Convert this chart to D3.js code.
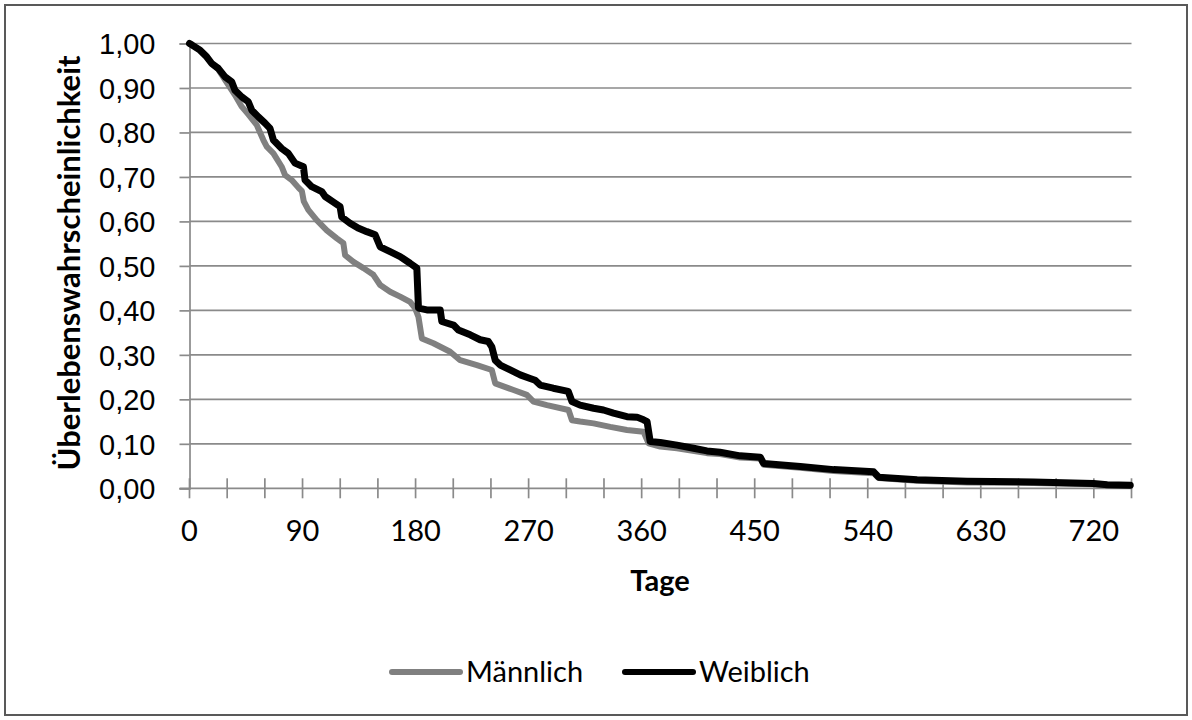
<!DOCTYPE html>
<html>
<head>
<meta charset="utf-8">
<script src="https://cdn.jsdelivr.net/npm/d3@7"></script>
<style>
  body { margin: 0; background: #fff; }
  svg { display: block; font-family: Lato, "Open Sans", sans-serif; }
</style>
</head>
<body>
<div id="chart"></div>
<script>
// Kaplan-Meier Kurven, Werte
const tageM = [0, 1.8, 8.4, 13.7, 17.7, 22.9, 28.3, 33.6, 36.2, 41.6, 47, 53.5, 58.8, 61.5, 66.8, 73.4, 76.1, 81.4, 86.7, 89.5, 91, 94.6, 101.3, 109.3, 117.3, 122.5, 123.9, 130.5, 138.5, 146.4, 151.8, 159.7, 167.7, 175.6, 179.6, 182.3, 185, 194.2, 207.5, 215.5, 228.8, 240.7, 243.4, 258, 268.6, 273.9, 284.6, 301.8, 304.5, 311, 321.7, 335, 348.3, 361.5, 365.5, 374.8, 388.1, 412, 422.4, 438.4, 454.4, 457.1, 486.3, 512.9, 544.7, 548.7, 579.3, 619.1, 672, 719.7, 730.7, 749]
const survM = [1.00, 0.997, 0.985, 0.970, 0.955, 0.942, 0.918, 0.895, 0.884, 0.858, 0.840, 0.817, 0.783, 0.768, 0.753, 0.723, 0.704, 0.693, 0.676, 0.668, 0.645, 0.626, 0.603, 0.580, 0.562, 0.551, 0.524, 0.509, 0.495, 0.480, 0.457, 0.442, 0.431, 0.419, 0.405, 0.385, 0.337, 0.326, 0.307, 0.288, 0.277, 0.266, 0.236, 0.221, 0.210, 0.195, 0.187, 0.176, 0.153, 0.150, 0.146, 0.138, 0.131, 0.127, 0.101, 0.094, 0.090, 0.079, 0.077, 0.069, 0.067, 0.053, 0.046, 0.039, 0.034, 0.023, 0.017, 0.013, 0.012, 0.009, 0.006, 0.005]

const tageW = [0, 1.8, 8.4, 13.7, 17.7, 22.9, 28.3, 33.6, 36.2, 41.6, 46.8, 49.6, 54.8, 60.1, 64.1, 66.8, 73.4, 78.7, 84, 90.7, 92, 97.3, 105.3, 108, 114.3, 119.9, 121.2, 127.8, 134.2, 141.2, 147.8, 151.8, 159.7, 167.7, 175.6, 181, 182.3, 189, 199.6, 200.9, 210.2, 214.1, 223.5, 231.4, 238, 240.7, 243.4, 247.4, 255.3, 263.3, 271.2, 275.2, 279.2, 289.6, 301.5, 304.5, 311, 321.7, 329.6, 337.6, 348.3, 356.3, 361.5, 364.3, 366.8, 374.8, 388.1, 401.3, 412, 422.4, 438.4, 454.4, 457.1, 486.3, 512.9, 544.7, 548.7, 579.3, 619.1, 672, 719.7, 730.7, 749]
const survW = [1.00, 0.997, 0.985, 0.970, 0.955, 0.944, 0.925, 0.914, 0.895, 0.880, 0.869, 0.850, 0.835, 0.821, 0.809, 0.783, 0.764, 0.753, 0.731, 0.723, 0.693, 0.678, 0.667, 0.656, 0.644, 0.633, 0.610, 0.596, 0.585, 0.577, 0.570, 0.543, 0.532, 0.521, 0.506, 0.495, 0.405, 0.401, 0.401, 0.375, 0.367, 0.356, 0.345, 0.334, 0.330, 0.318, 0.288, 0.277, 0.266, 0.255, 0.247, 0.243, 0.232, 0.225, 0.218, 0.195, 0.187, 0.180, 0.176, 0.169, 0.161, 0.160, 0.154, 0.150, 0.105, 0.103, 0.097, 0.090, 0.084, 0.081, 0.073, 0.070, 0.056, 0.049, 0.042, 0.037, 0.025, 0.019, 0.016, 0.014, 0.011, 0.008, 0.007]

const xLabels = [0, 90, 180, 270, 360, 450, 540, 630, 720]
const xMinor = d3.range(0, 751, 30)
const yTicks = d3.range(0, 1.0001, 0.1)

const serien = ['Männlich', 'Weiblich']
const farben = ['#808080', '#000000']

const width = 1192; const height = 720
const gridColor = '#8a8a8a'

const svg = d3.select('#chart').append('svg')
  .attr('width', width).attr('height', height)

// Rahmen
svg.append('rect')
  .attr('x', 5).attr('y', 5)
  .attr('width', width - 10).attr('height', height - 10)
  .attr('fill', '#fff')
  .attr('stroke', '#595959').attr('stroke-width', 2)

const x = d3.scaleLinear().domain([0, 750]).range([189.5, 1131.5])
const y = d3.scaleLinear().domain([0, 1]).range([488.3, 43.5])

const deFormat = d3.formatLocale({ decimal: ',', thousands: '.', grouping: [3], currency: ['', '€'] }).format('.2f')

// horizontale Gitterlinien
svg.append('g')
  .selectAll('line')
  .data(yTicks.filter(d => d > 0.001))
  .enter().append('line')
  .attr('x1', x(0)).attr('x2', x(750))
  .attr('y1', d => y(d)).attr('y2', d => y(d))
  .attr('stroke', gridColor).attr('stroke-width', 1.7)

// y-Achse
const yAxis = d3.axisLeft(y).tickValues(yTicks).tickSize(10).tickPadding(24).tickFormat(deFormat)
const gy = svg.append('g').attr('transform', 'translate(' + x(0) + ',0)').call(yAxis)
gy.select('.domain').attr('stroke', gridColor).attr('stroke-width', 1.7)
gy.selectAll('.tick line').attr('stroke', gridColor).attr('stroke-width', 1.7)
gy.selectAll('text').style('font-size', '29px').style('fill', '#000').attr('dy', '0.36em')

// x-Achse mit kreuzenden Teilstrichen
const gx = svg.append('g').attr('transform', 'translate(0,' + y(0) + ')')
gx.append('line')
  .attr('x1', x(0) - 10).attr('x2', x(750))
  .attr('stroke', gridColor).attr('stroke-width', 1.7)
gx.selectAll('line.tick')
  .data(xMinor)
  .enter().append('line')
  .attr('class', 'tick')
  .attr('x1', d => x(d)).attr('x2', d => x(d))
  .attr('y1', -10).attr('y2', 10)
  .attr('stroke', gridColor).attr('stroke-width', 1.7)
gx.selectAll('text')
  .data(xLabels)
  .enter().append('text')
  .attr('x', d => x(d))
  .attr('y', 53)
  .attr('text-anchor', 'middle')
  .style('font-size', '29px')
  .text(d => d)

// Kurven
const line = d3.line()
  .x(d => x(d[0]))
  .y(d => y(d[1]))

const daten = [
  d3.zip(tageM, survM),
  d3.zip(tageW, survW)
]
const breiten = [6, 7]

daten.forEach((pts, i) => {
  svg.append('path')
    .datum(pts)
    .attr('d', line)
    .attr('fill', 'none')
    .attr('stroke', farben[i])
    .attr('stroke-width', breiten[i])
    .attr('stroke-linejoin', 'round')
    .attr('stroke-linecap', 'round')
})

// Achsentitel
svg.append('text')
  .attr('transform', 'translate(80,263) rotate(-90)')
  .attr('text-anchor', 'middle')
  .style('font-size', '31px').style('font-weight', 'bold')
  .text('Überlebenswahrscheinlichkeit')

svg.append('text')
  .attr('x', 660).attr('y', 591)
  .attr('text-anchor', 'middle')
  .style('font-size', '29px').style('font-weight', 'bold')
  .text('Tage')

// Legende
const legend = [
  { name: serien[0], x1: 392, x2: 460 },
  { name: serien[1], x1: 625, x2: 693 }
]
legend.forEach((l, i) => {
  svg.append('line')
    .attr('x1', l.x1).attr('x2', l.x2)
    .attr('y1', 672).attr('y2', 672)
    .attr('stroke', farben[i]).attr('stroke-width', 6)
    .attr('stroke-linecap', 'round')
  svg.append('text')
    .attr('x', l.x2 + 6).attr('y', 682)
    .style('font-size', '29px')
    .text(l.name)
})
</script>
</body>
</html>
